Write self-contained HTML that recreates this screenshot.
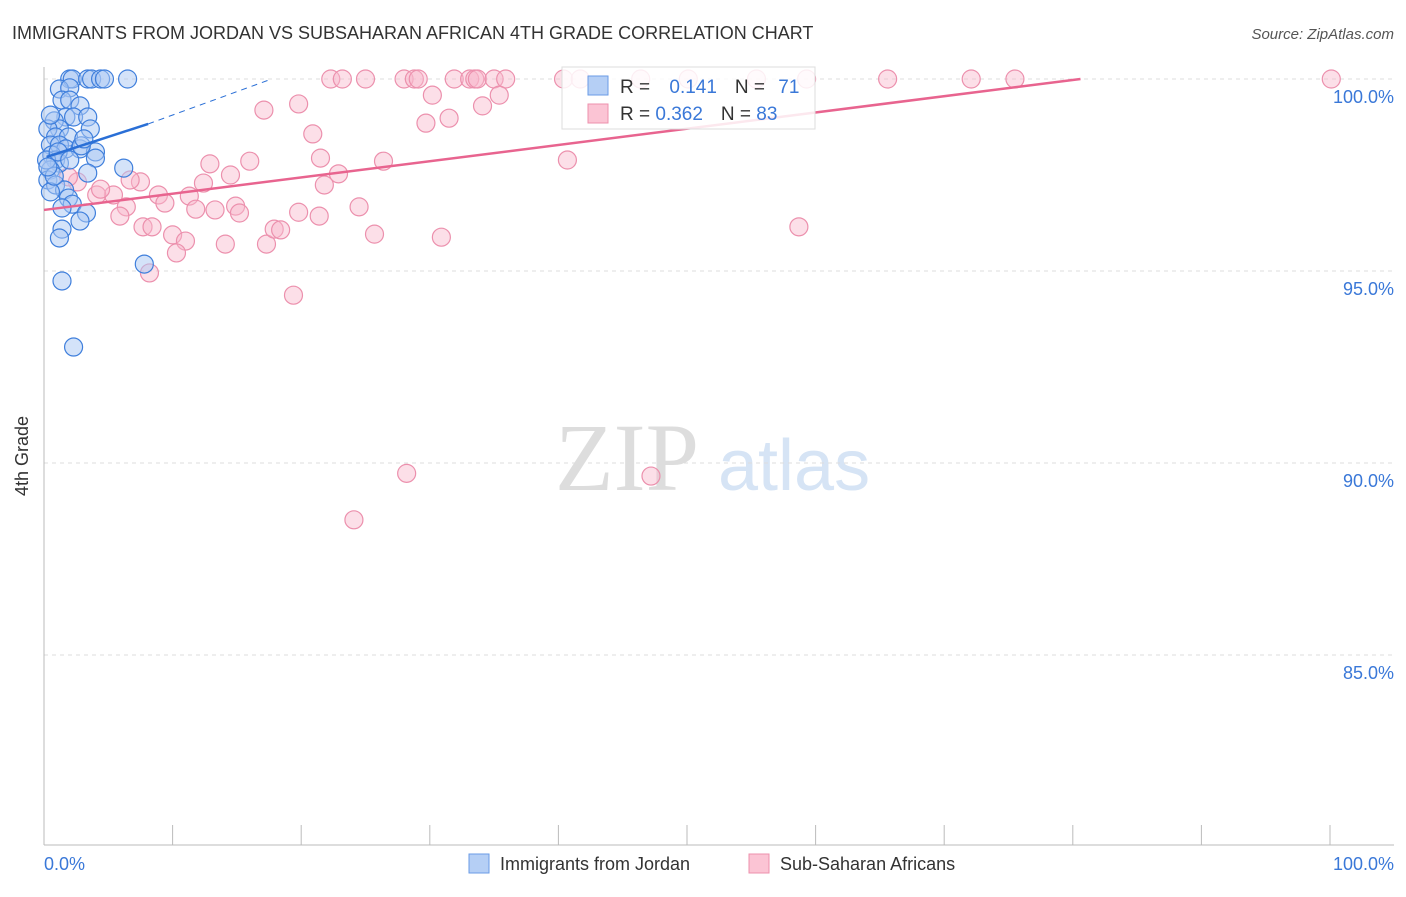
<!DOCTYPE html>
<html><head><meta charset="utf-8"><style>
body{margin:0;background:#fff;font-family:"Liberation Sans",sans-serif}
</style></head><body>
<svg width="1406" height="892" xmlns="http://www.w3.org/2000/svg" font-family="Liberation Sans, sans-serif">
<text x="12" y="39" font-size="18" fill="#333">IMMIGRANTS FROM JORDAN VS SUBSAHARAN AFRICAN 4TH GRADE CORRELATION CHART</text>
<text x="1394" y="39" font-size="15" fill="#555" font-style="italic" text-anchor="end">Source: ZipAtlas.com</text>
<g>
<text x="555" y="490" font-size="96" fill="#ddd" font-family="Liberation Serif, serif">ZIP</text>
<text x="718" y="490" font-size="72" fill="#d6e4f5">atlas</text>
</g>
<g id="grid"></g>
<line x1="44" y1="67" x2="44" y2="845" stroke="#bbb"/>
<line x1="44" y1="845" x2="1394" y2="845" stroke="#bbb"/>
<g id="xticks"></g>
<text x="28" y="456" font-size="18" fill="#333" transform="rotate(-90 28 456)" text-anchor="middle">4th Grade</text>
<text x="44" y="870" font-size="18" fill="#3a78d8">0.0%</text>
<text x="1394" y="870" font-size="18" fill="#3a78d8" text-anchor="end">100.0%</text>
<g id="pts"></g>
<g id="lines"></g>
<g>
<rect x="562" y="67" width="253" height="62" fill="#fff" fill-opacity="0.85" stroke="#ddd"/>
<rect x="588" y="76" width="20" height="19" fill="#b5cff5" stroke="#6a9be6"/>
<rect x="588" y="104" width="20" height="19" fill="#fbc4d4" stroke="#ee90ad"/>
<text x="620" y="93" font-size="19" fill="#333">R = <tspan fill="#3a78d8" dx="14">0.141</tspan><tspan dx="18" fill="#333">N = </tspan><tspan fill="#3a78d8" dx="8">71</tspan></text>
<text x="620" y="120" font-size="19" fill="#333">R = <tspan fill="#3a78d8">0.362</tspan><tspan dx="18" fill="#333">N = </tspan><tspan fill="#3a78d8">83</tspan></text>
</g>
<g>
<rect x="469" y="854" width="20" height="19" fill="#b5cff5" stroke="#6a9be6"/>
<text x="500" y="870" font-size="18" fill="#333">Immigrants from Jordan</text>
<rect x="749" y="854" width="20" height="19" fill="#fbc4d4" stroke="#ee90ad"/>
<text x="780" y="870" font-size="18" fill="#333">Sub-Saharan Africans</text>
</g>
</svg>
<script>
const yTicks=[100,95,90,85];
const yTickLabels=["100.0%","95.0%","90.0%","85.0%"];
const xTicks=[0,10,20,30,40,50,60,70,80,90,100];
// Jordan points [x%, y%]
const jordanX=[2.0,2.2,3.4,3.7,4.4,4.7,6.5,1.2,2.0,1.4,2.0,2.8,1.7,2.3,3.4,0.8,1.2,3.6,0.3,0.9,1.9,0.5,1.2,1.7,2.8,4.0,4.0,0.6,0.9,1.2,0.5,6.2,0.3,0.9,1.6,1.9,2.2,3.3,1.4,2.8,1.4,1.2,7.8,1.4,2.3,0.5,0.8,0.2,1.1,3.4,0.3,2.0,2.9,0.5,3.1];
const jordanY=[100,100,100,100,100,100,100,99.74,99.77,99.45,99.45,99.30,99.01,99.01,99.01,98.91,98.70,98.70,98.70,98.49,98.49,98.28,98.28,98.18,98.18,98.10,97.94,98.02,97.89,97.81,97.63,97.68,97.37,97.24,97.11,96.90,96.74,96.51,96.64,96.30,96.09,95.86,95.18,94.74,93.02,97.06,97.47,97.89,98.10,97.55,97.71,97.89,98.26,99.06,98.44];
// Sub-Saharan points
const ssaX=[22.3,23.2,25.0,28.0,28.8,31.9,33.1,33.5,33.7,35.0,35.9,40.4,41.7,46.4,50.1,55.4,59.3,65.6,72.1,75.5,100.1,29.1,17.1,19.8,20.9,21.5,30.2,29.7,31.5,34.1,35.4,40.7,26.4,12.9,16.0,14.5,22.9,21.8,12.4,7.5,6.7,5.4,4.1,2.6,1.9,8.9,9.4,11.3,14.9,15.2,13.3,11.8,6.4,5.9,7.7,8.4,10.0,11.0,10.3,14.1,17.3,17.9,18.4,19.8,21.4,24.5,25.7,30.9,8.2,19.4,58.7,28.2,47.2,24.1,4.4];
const ssaY=[100,100,100,100,100,100,100,100,100,100,100,100,100,100,100,100,100,100,100,100,100,100,99.19,99.35,98.57,97.94,99.58,98.85,98.98,99.30,99.58,97.89,97.86,97.79,97.86,97.50,97.53,97.24,97.29,97.32,97.37,96.98,96.98,97.32,97.45,96.98,96.77,96.95,96.69,96.51,96.59,96.61,96.67,96.43,96.15,96.15,95.94,95.78,95.47,95.70,95.70,96.09,96.07,96.53,96.43,96.67,95.96,95.88,94.95,94.37,96.15,89.73,89.66,88.52,97.13];
// regression endpoints [x0,y0,x1,y1]
const jordanFit=[0.2,97.97,8.1,98.83];
const jordanFitExt=[8.1,98.83,17.7,100];
const ssaFit=[0,96.59,80.6,100];
const X=v=>44+v*12.86, Y=v=>79+(100-v)*38.4;
const NS="http://www.w3.org/2000/svg";
function mk(t,a,p){const e=document.createElementNS(NS,t);for(const k in a)e.setAttribute(k,a[k]);p.appendChild(e);return e;}
const grid=document.getElementById('grid');
yTicks.forEach((t,i)=>{
 const l=mk('line',{x1:44,x2:1394,y1:Y(t),y2:Y(t),stroke:'#ddd','stroke-dasharray':'4,4'},grid);
 
 
 const tx=mk('text',{x:1394,y:Y(t)+24,'font-size':18,fill:'#3a78d8','text-anchor':'end'},grid);
 tx.textContent=yTickLabels[i];
 
 
});
const xt=document.getElementById('xticks');
xTicks.forEach(t=>{
 const l=mk('line',{x1:X(t),x2:X(t),y1:825,y2:845,stroke:'#bbb'},xt);
 
 
});
const pts=document.getElementById('pts');
ssaX.forEach((x,i)=>{
 const c=mk('circle',{cx:X(x),cy:Y(ssaY[i]),r:9,fill:'#f9b9cc','fill-opacity':0.45,stroke:'#ec90ad','stroke-width':1.2},pts);
 
 
});
jordanX.forEach((x,i)=>{
 const c=mk('circle',{cx:X(x),cy:Y(jordanY[i]),r:9,fill:'#a9c8f3','fill-opacity':0.5,stroke:'#3f7fdc','stroke-width':1.2},pts);
 
 
});
const lg=document.getElementById('lines');
function ln(a,col,w,dash,name){const l=mk('line',{x1:X(a[0]),y1:Y(a[1]),x2:X(a[2]),y2:Y(a[3]),stroke:col,'stroke-width':w},lg);if(dash)l.setAttribute('stroke-dasharray',dash);
 
 }
ln(ssaFit,'#e8648f',2.5,null,'subsaharan-trendline');
ln(jordanFit,'#2a6fd6',2.5,null,'jordan-trendline');
ln(jordanFitExt,'#2a6fd6',1,'6,5','jordan-trendline-extension');
</script>
</body></html>
